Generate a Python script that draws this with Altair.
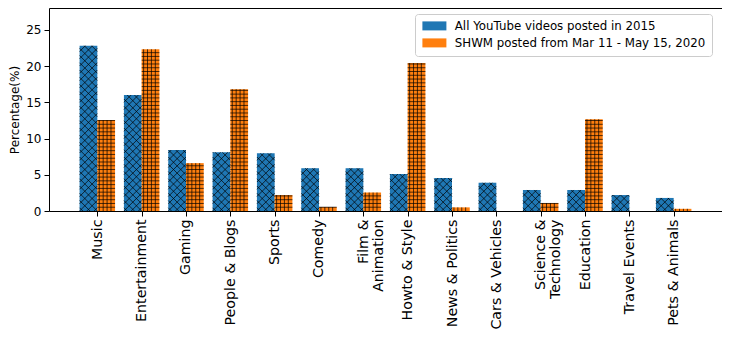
import json
import altair as alt
import pandas as pd

categories = ["Music", "Entertainment", "Gaming", "People & Blogs", "Sports", "Comedy",
              "Film &\nAnimation", "Howto & Style", "News & Politics", "Cars & Vehicles",
              "Science &\nTechnology", "Education", "Travel Events", "Pets & Animals"]
series_names = ["All YouTube videos posted in 2015", "SHWM posted from Mar 11 - May 15, 2020"]
all_2015 = [22.8, 16.0, 8.4, 8.1, 7.95, 5.9, 5.9, 5.1, 4.55, 3.9, 2.9, 2.9, 2.2, 1.8]
shwm_2020 = [12.55, 22.3, 6.6, 16.8, 2.2, 0.55, 2.55, 20.4, 0.5, 0.0, 1.1, 12.65, 0.0, 0.3]
colors = ["#1f77b4", "#ff7f0e"]
y_ticks = [0, 5, 10, 15, 20, 25]

rows = []
for i, (c, a, s) in enumerate(zip(categories, all_2015, shwm_2020)):
    rows.append({"category": c, "idx": i, "series": series_names[0], "sidx": 0, "value": a})
    rows.append({"category": c, "idx": i, "series": series_names[1], "sidx": 1, "value": s})
df = pd.DataFrame(rows)

font = "DejaVu Sans"
label_expr = "split(" + json.dumps(categories) + "[datum.value], '\\n')"

x_scale = alt.Scale(domain=[-1.09, 14.09], nice=False, zero=False)
y_scale = alt.Scale(domain=[0, 28], nice=False)
x_axis = alt.Axis(title=None, values=list(range(len(categories))), labelAngle=-90,
                  labelExpr=label_expr, labelFontSize=14.2, labelLineHeight=15,
                  labelPadding=3, labelColor="black", labelFont=font, grid=False,
                  tickSize=5, tickColor="black", tickWidth=1, domain=False,
                  labelOverlap=False, labelBound=False)
y_axis = alt.Axis(title="Percentage(%)", values=y_ticks, grid=False,
                  labelFontSize=12, labelFont=font, labelColor="black",
                  labelPadding=3, tickSize=5, tickColor="black", tickWidth=1,
                  domain=False, titleFont=font, titleFontSize=12,
                  titleFontWeight="normal", titleColor="black",
                  titleX=-35, titleBaseline="middle")


def X(field):
    return alt.X(field, type="quantitative", scale=x_scale, axis=x_axis)


def Y(field):
    return alt.Y(field, type="quantitative", scale=y_scale, axis=y_axis)


base = alt.Chart(df).transform_calculate(
    x0="datum.idx - 0.4 + 0.4 * datum.sidx",
    x1="datum.idx + 0.4 * datum.sidx",
)

bars = base.mark_rect().encode(
    x=X("x0"), x2="x1",
    y=Y("value"), y2=alt.datum(0),
    color=alt.Color("series:N", sort=series_names,
                    scale=alt.Scale(domain=series_names, range=colors),
                    legend=alt.Legend(title=None, orient="none", legendX=366, legendY=6,
                                      symbolType="M-2.667,-1H2.667V1H-2.667Z", symbolSize=81,
                                      symbolOffset=7.5,
                                      symbolStrokeWidth=0, labelFontSize=11.8, labelFont=font,
                                      labelColor="black", labelOffset=14.5, labelLimit=400,
                                      rowPadding=4, padding=6, strokeColor="#cccccc",
                                      fillColor="white", cornerRadius=3)),
)

# crosshatch ('x') on the 2015 bars: 45-degree lines clipped to each bar
W = 2.446   # bar width (0.4 x-units) expressed in y-units, so lines run at 45 degrees
S = 1.0     # spacing of the diagonal lines, in y-units
blue_hatch = base.transform_filter("datum.sidx == 0").transform_calculate(
    k=f"sequence(ceil(-{W} / {S}), floor(datum.value / {S}) + 1)"
).transform_flatten(["k"]).transform_calculate(
    b=f"datum.k * {S}"
).transform_calculate(
    t0=f"max(0, -datum.b / {W})",
    t1=f"min(1, (datum.value - datum.b) / {W})",
).transform_filter("datum.t1 > datum.t0").transform_calculate(
    d="[0, 1]"
).transform_flatten(["d"]).transform_calculate(
    xa="datum.d == 0 ? datum.x0 + 0.4 * datum.t0 : datum.x1 - 0.4 * datum.t0",
    xb="datum.d == 0 ? datum.x0 + 0.4 * datum.t1 : datum.x1 - 0.4 * datum.t1",
    ya=f"datum.b + {W} * datum.t0",
    yb=f"datum.b + {W} * datum.t1",
).mark_rule(color="black", strokeWidth=0.7).encode(
    x=X("xa"), x2="xb", y=Y("ya"), y2="yb")

# grid ('+') hatch on the 2020 bars
step_y = 0.52
orange_h = base.transform_filter("datum.sidx == 1").transform_calculate(
    hrow=f"sequence(1, floor(datum.value / {step_y}) + 1)"
).transform_flatten(["hrow"]).transform_calculate(
    hy=f"datum.hrow * {step_y}"
).mark_rule(color="black", strokeWidth=0.7).encode(x=X("x0"), x2="x1", y=Y("hy"))

orange_v = base.transform_filter("datum.sidx == 1 && datum.value > 0").transform_calculate(
    hcol="[0, 1, 2, 3]"
).transform_flatten(["hcol"]).transform_calculate(
    hx="datum.x0 + (0.11 + 0.22 * datum.hcol) * 0.4"
).mark_rule(color="black", strokeWidth=0.7).encode(x=X("hx"), y=Y("value"), y2=alt.datum(0))

chart = alt.layer(bars, blue_hatch, orange_h, orange_v).properties(
    width=673, height=203,
    autosize=alt.AutoSizeParams(type="none"),
    padding={"left": 41, "top": 0, "right": 0, "bottom": 123},
).configure_view(stroke="black", strokeWidth=1)

chart.save("out.html", embed_options={"renderer": "svg", "actions": False})
